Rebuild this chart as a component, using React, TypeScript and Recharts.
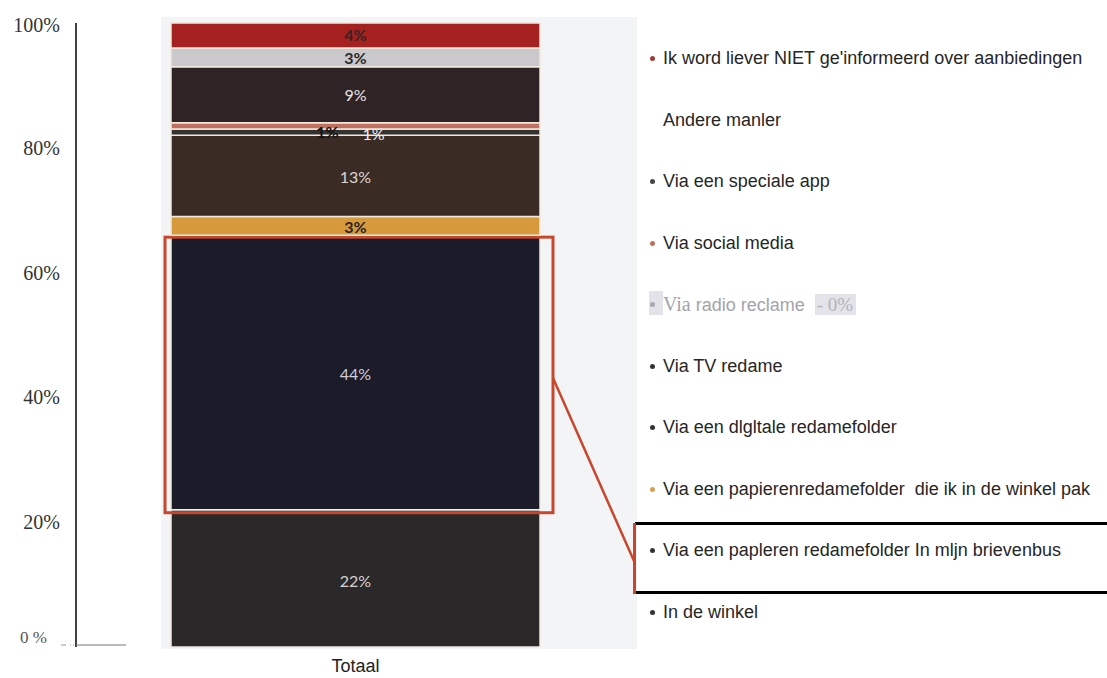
import React from 'react';
import { BarChart, Bar, XAxis, YAxis, Legend, LabelList } from 'recharts';

// ---- data (stack order: bottom to top) ----
const categories = ['Totaal'];
const seriesNames = [
  'In de winkel',
  'Via een papleren redamefolder In mljn brievenbus',
  'Via een papierenredamefolder  die ik in de winkel pak',
  'Via een dlgltale redamefolder',
  'Via TV redame',
  'Via radio reclame',
  'Via social media',
  'Via een speciale app',
  'Andere manler',
  "Ik word liever NIET ge'informeerd over aanbiedingen",
];
const seriesValues = [22, 44, 3, 13, 1, 0, 1, 9, 3, 4];
const seriesColors = ['#2a2829', '#1b1b29', '#d69a3c', '#3b2b25', '#333132', '#c9c9cf', '#c0705c', '#2f2326', '#cbc8cc', '#a4211f'];
const bulletColors = ['#333', '#333', '#d4a050', '#333', '#333', '#a8a8b0', '#c07060', '#444', 'transparent', '#a33a3a'];
const yTicks = [0, 20, 40, 60, 80, 100];
const yTickLabels = ['0 %', '20%', '40%', '60%', '80%', '100%'];
const radioSuffix = '- 0%';
const highlightIndex = 1;

// ---- label styling per series ----
const labelFill = ['#d8d2d2', '#cdcddb', '#2a2420', '#ddd5d2', '#f2eeea', '#000', '#111', '#ebe5e5', '#2a2a2a', '#3a2222'];
const labelBold = [false, false, true, false, false, false, true, false, true, true];
const labelDx = [0, 0, 0, 0, 18, 0, -28, 0, 0, 0];
const labelDy = [2, 1, 1, 1, 1, 0, 6, 0, 0, -1];

const W = 1107;
const H = 678;
const LEGEND_LEFT = 630;
const LEGEND_TOP = 58;
const LEGEND_STEP = 61.5;
const HILITE = '#c8472c';
const SANS = '"Liberation Sans", Arial, sans-serif';
const SERIF = '"Liberation Serif", "Times New Roman", serif';

const row: Record<string, string | number> = { name: categories[0] };
seriesValues.forEach((v, i) => {
  row[`s${i}`] = v;
});
const data = [row];

// legend order top->bottom is reverse of stack order
const legendOrder = seriesNames.map((_, i) => seriesNames.length - 1 - i);
const hiliteLegendRow = legendOrder.indexOf(highlightIndex);
const hiliteRowY = LEGEND_TOP + hiliteLegendRow * LEGEND_STEP;

const makeLabel = (i: number) => (p: any) => {
  const vb = p.viewBox ?? p;
  if (vb == null || p.value == null || Number(p.value) === 0) return null;
  const cx = vb.x + vb.width / 2 + labelDx[i];
  const cy = vb.y + vb.height / 2 + labelDy[i];
  return (
    <text
      x={cx}
      y={cy}
      textAnchor="middle"
      dominantBaseline="central"
      fill={labelFill[i]}
      fontFamily="Lato, 'Open Sans', sans-serif"
      fontSize={16}
      fontWeight={labelBold[i] ? 700 : 400}
    >
      {`${p.value}%`}
    </text>
  );
};

const HighlightShape = (p: any) => {
  const { x, y, width, height, fill } = p;
  const boxX = x - 6;
  const boxR = x + width + 13;
  return (
    <g>
      <rect x={x} y={y} width={width} height={height} fill={fill} stroke="#f0e9df" strokeWidth={1.5} />
      <rect x={boxX} y={y + 2} width={boxR - boxX} height={height + 1} fill="none" stroke={HILITE} strokeWidth={3} />
      <line x1={boxR} y1={y + height * 0.52} x2={LEGEND_LEFT + 4} y2={hiliteRowY + 11} stroke={HILITE} strokeWidth={2.5} />
    </g>
  );
};

const YTick = (p: any) => {
  const { x, y, payload } = p;
  const idx = yTicks.indexOf(payload.value);
  const label = yTickLabels[idx] ?? `${payload.value}%`;
  if (payload.value === 0) {
    return (
      <g>
        <text x={x - 13} y={y - 10} textAnchor="end" dominantBaseline="central" fill="#555" fontFamily={SERIF} fontSize={17}>
          {label}
        </text>
        <line x1={x + 1} y1={y - 2} x2={x + 14} y2={y - 2} stroke="#999" strokeWidth={1} strokeDasharray="5 4 1 2 1 2" />
        <line x1={x + 16} y1={y - 2} x2={x + 66} y2={y - 2} stroke="#777" strokeWidth={1} />
      </g>
    );
  }
  return (
    <text x={x} y={payload.value === 100 ? y + 2 : y} textAnchor="end" dominantBaseline="central" fill="#333" fontFamily={SERIF} fontSize={20}>
      {label}
    </text>
  );
};

const XTick = (p: any) => {
  const { x, payload } = p;
  return (
    <text x={x} y={H - 6} textAnchor="middle" fill="#222" fontFamily={SANS} fontSize={18}>
      {payload.value}
    </text>
  );
};

const LegendContent = () => (
  <div style={{ position: 'relative', width: W - LEGEND_LEFT, height: H, fontFamily: SANS }}>
    {legendOrder.map((si, r) => {
      const cy = LEGEND_TOP + r * LEGEND_STEP;
      const isRadio = seriesValues[si] === 0;
      const isHilite = si === highlightIndex;
      return (
        <div key={si}>
          {isHilite && (
            <>
              <div style={{ position: 'absolute', left: 5, top: cy - 28, width: W - LEGEND_LEFT - 5, height: 0, borderTop: '3px solid #000' }} />
              <div style={{ position: 'absolute', left: 5, top: cy + 41, width: W - LEGEND_LEFT - 5, height: 0, borderTop: '3px solid #000' }} />
              <div style={{ position: 'absolute', left: 3, top: cy - 27, width: 3, height: 71, background: HILITE }} />
            </>
          )}
          {isRadio && (
            <div style={{ position: 'absolute', left: 19, top: cy - 13, width: 14, height: 24, background: '#e3e3e9' }} />
          )}
          <div
            style={{
              position: 'absolute',
              left: 20,
              top: cy - 2,
              width: 5,
              height: 5,
              borderRadius: '50%',
              background: bulletColors[si],
            }}
          />
          <div
            style={{
              position: 'absolute',
              left: 33,
              top: cy - 12,
              height: 24,
              lineHeight: '24px',
              whiteSpace: 'pre',
              fontSize: 18,
              color: isRadio ? '#a3a3ab' : '#262626',
            }}
          >
            {isRadio ? (
              <>
                <span style={{ fontFamily: SERIF, fontSize: 20 }}>{seriesNames[si].split(' ')[0]}</span>
                {' ' + seriesNames[si].split(' ').slice(1).join(' ') + '  '}
                <span style={{ fontFamily: SERIF, fontSize: 19, color: '#b3b3bb', background: '#e3e3e9', padding: '0 3px 0 2px' }}>
                  {radioSuffix}
                </span>
              </>
            ) : (
              seriesNames[si]
            )}
          </div>
        </div>
      );
    })}
  </div>
);

export default function App() {
  return (
    <div style={{ position: 'absolute', left: 0, top: 0, width: W, height: H, background: '#fff', overflow: 'hidden' }}>
      <div style={{ position: 'absolute', left: 161, top: 17, width: 476, height: 632, background: '#f2f4f6' }} />
      <BarChart
        width={W}
        height={H}
        data={data}
        margin={{ top: 23, right: W - 635, left: 0, bottom: 0 }}
        style={{ position: 'relative' }}
      >
        <XAxis dataKey="name" axisLine={false} tickLine={false} height={31} tick={<XTick />} interval={0} />
        <YAxis
          type="number"
          domain={[0, 100]}
          ticks={yTicks}
          width={76}
          tickLine={false}
          tickSize={0}
          tickMargin={16}
          axisLine={{ stroke: '#000', strokeWidth: 1.5 }}
          tick={<YTick />}
          interval={0}
        />
        {seriesNames.map((name, i) => (
          <Bar
            key={name}
            name={name}
            dataKey={`s${i}`}
            stackId="total"
            fill={seriesColors[i]}
            stroke="#f0e9df"
            strokeWidth={1.5}
            barSize={369}
            isAnimationActive={false}
            shape={i === highlightIndex ? HighlightShape : undefined}
          >
            {seriesValues[i] > 0 && <LabelList dataKey={`s${i}`} content={makeLabel(i)} />}
          </Bar>
        ))}
        <Legend
          layout="horizontal"
          align="center"
          verticalAlign="middle"
          content={<LegendContent />}
          wrapperStyle={{ left: LEGEND_LEFT, top: 0, width: W - LEGEND_LEFT, height: H }}
        />
      </BarChart>
    </div>
  );
}
